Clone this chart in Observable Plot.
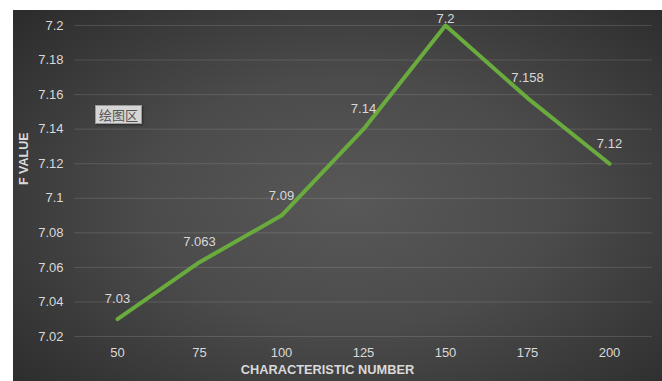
<!DOCTYPE html>
<html>
<head>
<meta charset="utf-8">
<script src="https://cdn.jsdelivr.net/npm/d3@7"></script>
<script src="https://cdn.jsdelivr.net/npm/@observablehq/plot@0.6"></script>
<style>
  html, body { margin: 0; padding: 0; background: #ffffff; }
  #chart {
    position: absolute; left: 13px; top: 10px; width: 649px; height: 371px;
    background: radial-gradient(ellipse 70% 75% at 52% 52%, #585858 0%, #4b4b4b 45%, #2c2c2c 100%);
    overflow: hidden;
  }
  #chart svg { position: absolute; left: 0; top: 0; }
  #tip {
    position: absolute; left: 82px; top: 95px; padding: 1px 3px;
    background: #d6d6d6; color: #555; border: 1px solid #9a9a9a;
    font: 13px "Noto Sans CJK SC", sans-serif; line-height: 15px;
    box-shadow: 1px 1px 2px rgba(0,0,0,0.4);
  }
</style>
</head>
<body>
<div id="chart"><div id="tip">绘图区</div></div>
<script>
// Characteristic number vs. F value
const categories = ["50", "75", "100", "125", "150", "175", "200"];
const fValues = [7.03, 7.063, 7.09, 7.14, 7.2, 7.158, 7.12];
const yTicks = [7.02, 7.04, 7.06, 7.08, 7.1, 7.12, 7.14, 7.16, 7.18, 7.2];

const data = categories.map((c, i) => ({category: c, value: fValues[i]}));
const peak = d3.max(fValues);

const labelColor = "#d9d9d9";
const font = "Liberation Sans, Arial, sans-serif";

const chart = Plot.plot({
  width: 649,
  height: 371,
  marginLeft: 61,
  marginRight: 10,
  marginTop: 15,
  marginBottom: 45,
  style: {background: "transparent", color: labelColor, fontFamily: font, fontSize: "13px", overflow: "visible"},
  x: {type: "point", domain: categories, padding: 0.5, label: null},
  y: {domain: [7.02, 7.2], ticks: yTicks, label: null},
  marks: [
    Plot.gridY(yTicks, {stroke: "#ffffff", strokeOpacity: 0.13, strokeWidth: 1}),
    Plot.axisY(yTicks, {tickSize: 0, tickPadding: 11, tickFormat: d => String(+d.toFixed(2)), fill: labelColor, fontSize: 13}),
    Plot.axisX({tickSize: 0, tickPadding: 11, fill: labelColor, fontSize: 13}),
    Plot.lineY(data, {x: "category", y: "value", stroke: "#6aab3e", strokeWidth: 4, strokeLinejoin: "round", strokeLinecap: "round"}),
    Plot.text(data.filter(d => d.value < peak), {x: "category", y: "value", text: d => String(d.value), dy: -20, fill: labelColor, fontSize: 13}),
    Plot.text(data.filter(d => d.value === peak), {x: "category", y: "value", text: d => String(d.value), dy: -7, fill: labelColor, fontSize: 13}),
    Plot.text(["CHARACTERISTIC NUMBER"], {frameAnchor: "bottom", text: d => d, dx: -36, dy: 37, fill: labelColor, fontWeight: "bold", fontSize: 12.8}),
    Plot.text(["F VALUE"], {frameAnchor: "left", text: d => d, rotate: -90, dx: -51, dy: 4, fill: labelColor, fontWeight: "bold", fontSize: 12.5})
  ]
});
document.getElementById("chart").prepend(chart);
</script>
</body>
</html>
